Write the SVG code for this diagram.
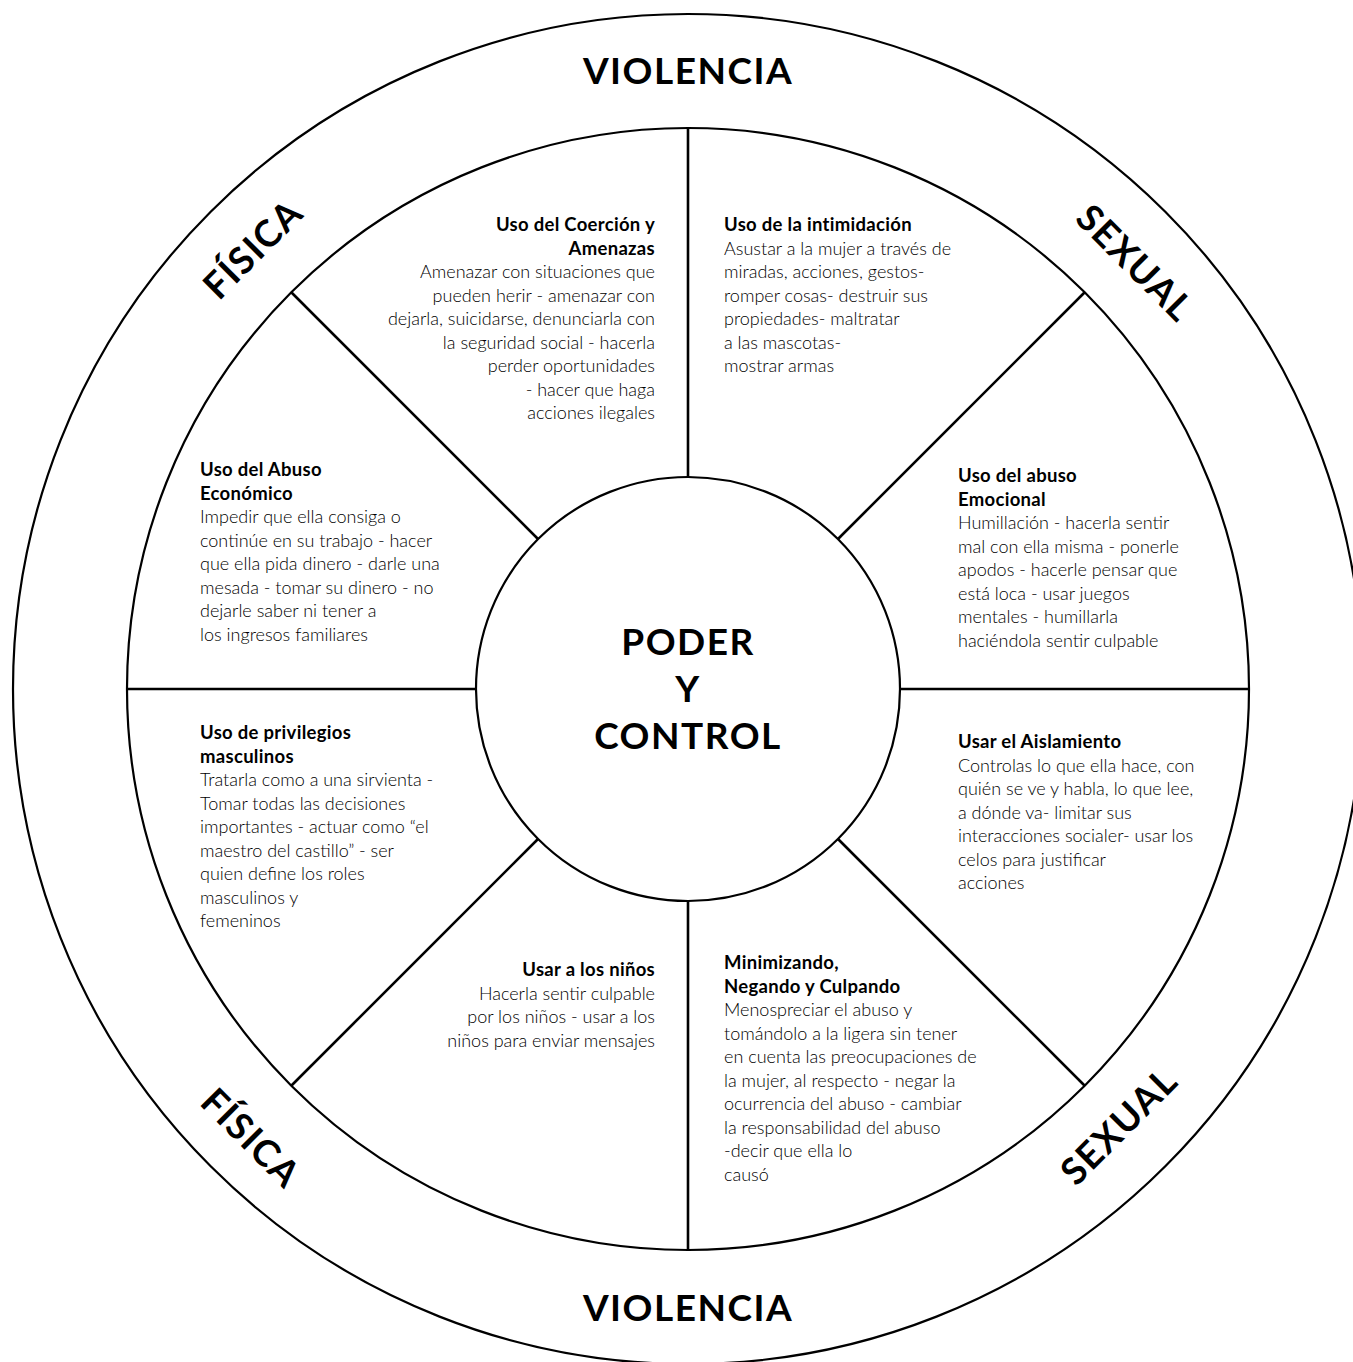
<svg xmlns="http://www.w3.org/2000/svg" width="1353" height="1362" viewBox="0 0 1353 1362">
<style>
.ring{fill:none;stroke:#000;stroke-width:2.2}
.spoke{stroke:#000;stroke-width:2.6}
.big{font-family:Lato,"Open Sans",sans-serif;font-weight:700;font-size:37px;fill:#000;text-anchor:middle;letter-spacing:1.5px}
.h{font-family:Lato,"Open Sans",sans-serif;font-weight:700;font-size:18.5px;fill:#000;letter-spacing:0.3px}
.b{font-family:Lato,"Open Sans",sans-serif;font-weight:300;font-size:18px;fill:#000}
.r{text-anchor:end}
</style>
<rect width="1353" height="1362" fill="#fff"/>
<g id="wheel">
<circle class="ring" cx="688" cy="689" r="675"/>
<circle class="ring" cx="688" cy="689" r="561" stroke-width="2.6"/>
<circle class="ring" cx="688" cy="689" r="212" stroke-width="2.6"/>
</g>
<g id="connectors">
<line class="spoke" x1="688" y1="128" x2="688" y2="477"/>
<line class="spoke" x1="688" y1="901" x2="688" y2="1250"/>
<line class="spoke" x1="127" y1="689" x2="476" y2="689"/>
<line class="spoke" x1="900" y1="689" x2="1249" y2="689"/>
<line class="spoke" x1="291" y1="292" x2="538" y2="539"/>
<line class="spoke" x1="1085" y1="292" x2="838" y2="539"/>
<line class="spoke" x1="291" y1="1086" x2="538" y2="839"/>
<line class="spoke" x1="1085" y1="1086" x2="838" y2="839"/>
</g>
<g id="outer-labels">
<text class="big" x="688" y="84">VIOLENCIA</text>
<text class="big" x="688" y="1321">VIOLENCIA</text>
<text class="big" transform="translate(253,249) rotate(-45)" x="0" y="13">FÍSICA</text>
<text class="big" transform="translate(1135,263) rotate(45)" x="0" y="13">SEXUAL</text>
<text class="big" transform="translate(251,1138) rotate(45)" x="0" y="13">FÍSICA</text>
<text class="big" transform="translate(1119,1126) rotate(-45)" x="0" y="13">SEXUAL</text>
</g>
<g id="center">
<text class="big" x="688" y="655">PODER</text>
<text class="big" x="688" y="702">Y</text>
<text class="big" x="688" y="749" letter-spacing="2.2">CONTROL</text>
</g>
<g id="coercion">
<text class="h r" x="655" y="231">Uso del Coerción y</text>
<text class="h r" x="655" y="254.5">Amenazas</text>
<text class="b r" x="655" y="278">Amenazar con situaciones que</text>
<text class="b r" x="655" y="301.5">pueden herir - amenazar con</text>
<text class="b r" x="655" y="325">dejarla, suicidarse, denunciarla con</text>
<text class="b r" x="655" y="348.5">la seguridad social - hacerla</text>
<text class="b r" x="655" y="372">perder oportunidades</text>
<text class="b r" x="655" y="395.5">- hacer que haga</text>
<text class="b r" x="655" y="419">acciones ilegales</text>
</g>
<g id="intimidacion">
<text class="h" x="724" y="231">Uso de la intimidación</text>
<text class="b" x="724" y="254.5">Asustar a la mujer a través de</text>
<text class="b" x="724" y="278">miradas, acciones, gestos-</text>
<text class="b" x="724" y="301.5">romper cosas- destruir sus</text>
<text class="b" x="724" y="325">propiedades- maltratar</text>
<text class="b" x="724" y="348.5">a las mascotas-</text>
<text class="b" x="724" y="372">mostrar armas</text>
</g>
<g id="economico">
<text class="h" x="200" y="476">Uso del Abuso</text>
<text class="h" x="200" y="499.5">Económico</text>
<text class="b" x="200" y="523">Impedir que ella consiga o</text>
<text class="b" x="200" y="546.5">continúe en su trabajo - hacer</text>
<text class="b" x="200" y="570">que ella pida dinero - darle una</text>
<text class="b" x="200" y="593.5">mesada - tomar su dinero - no</text>
<text class="b" x="200" y="617">dejarle saber ni tener a</text>
<text class="b" x="200" y="640.5">los ingresos familiares</text>
</g>
<g id="emocional">
<text class="h" x="958" y="482">Uso del abuso</text>
<text class="h" x="958" y="505.5">Emocional</text>
<text class="b" x="958" y="529">Humillación - hacerla sentir</text>
<text class="b" x="958" y="552.5">mal con ella misma - ponerle</text>
<text class="b" x="958" y="576">apodos - hacerle pensar que</text>
<text class="b" x="958" y="599.5">está loca - usar juegos</text>
<text class="b" x="958" y="623">mentales - humillarla</text>
<text class="b" x="958" y="646.5">haciéndola sentir culpable</text>
</g>
<g id="privilegios">
<text class="h" x="200" y="739">Uso de privilegios</text>
<text class="h" x="200" y="762.5">masculinos</text>
<text class="b" x="200" y="786">Tratarla como a una sirvienta -</text>
<text class="b" x="200" y="809.5">Tomar todas las decisiones</text>
<text class="b" x="200" y="833">importantes - actuar como “el</text>
<text class="b" x="200" y="856.5">maestro del castillo” - ser</text>
<text class="b" x="200" y="880">quien define los roles</text>
<text class="b" x="200" y="903.5">masculinos y</text>
<text class="b" x="200" y="927">femeninos</text>
</g>
<g id="aislamiento">
<text class="h" x="958" y="748">Usar el Aislamiento</text>
<text class="b" x="958" y="771.5">Controlas lo que ella hace, con</text>
<text class="b" x="958" y="795">quién se ve y habla, lo que lee,</text>
<text class="b" x="958" y="818.5">a dónde va- limitar sus</text>
<text class="b" x="958" y="842">interacciones socialer- usar los</text>
<text class="b" x="958" y="865.5">celos para justificar</text>
<text class="b" x="958" y="889">acciones</text>
</g>
<g id="ninos">
<text class="h r" x="655" y="976">Usar a los niños</text>
<text class="b r" x="655" y="999.5">Hacerla sentir culpable</text>
<text class="b r" x="655" y="1023">por los niños - usar a los</text>
<text class="b r" x="655" y="1046.5">niños para enviar mensajes</text>
</g>
<g id="minimizando">
<text class="h" x="724" y="969">Minimizando,</text>
<text class="h" x="724" y="992.5">Negando y Culpando</text>
<text class="b" x="724" y="1016">Menospreciar el abuso y</text>
<text class="b" x="724" y="1039.5">tomándolo a la ligera sin tener</text>
<text class="b" x="724" y="1063">en cuenta las preocupaciones de</text>
<text class="b" x="724" y="1086.5">la mujer, al respecto - negar la</text>
<text class="b" x="724" y="1110">ocurrencia del abuso - cambiar</text>
<text class="b" x="724" y="1133.5">la responsabilidad del abuso</text>
<text class="b" x="724" y="1157">-decir que ella lo</text>
<text class="b" x="724" y="1180.5">causó</text>
</g>
</svg>
